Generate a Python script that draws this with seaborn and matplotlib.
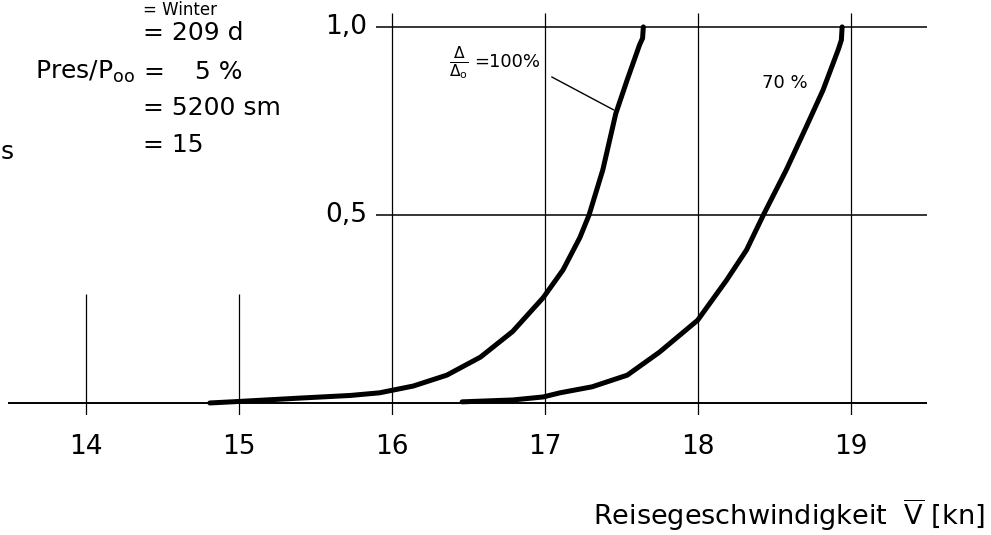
import matplotlib
matplotlib.use("Agg")
import matplotlib.pyplot as plt
import seaborn as sns
import pandas as pd

# ---- data ----
v_100 = [14.81, 15.0, 15.40, 15.73, 15.92, 16.14, 16.36, 16.58, 16.79, 16.99,
         17.12, 17.23, 17.29, 17.38, 17.465, 17.54, 17.62, 17.64, 17.645]
p_100 = [0.0, 0.004, 0.013, 0.020, 0.027, 0.045, 0.074, 0.122, 0.19, 0.28,
         0.354, 0.44, 0.5, 0.62, 0.77, 0.86, 0.952, 0.97, 1.0]
v_70 = [16.46, 16.79, 16.99, 17.10, 17.31, 17.54, 17.75, 18.0, 18.19, 18.32,
        18.43, 18.58, 18.71, 18.82, 18.92, 18.94, 18.945]
p_70 = [0.003, 0.008, 0.016, 0.027, 0.043, 0.074, 0.135, 0.22, 0.327, 0.407,
        0.5, 0.62, 0.734, 0.832, 0.94, 0.965, 1.0]
x_ticks = [14, 15, 16, 17, 18, 19]
x_ticklabels = ["14", "15", "16", "17", "18", "19"]
y_levels = [0.5, 1.0]
y_labels = ["0,5", "1,0"]
info_lines = ["= 209 d", "=", "= 5200 sm", "= 15"]

sns.set_style("white")
plt.rcParams["font.family"] = ["DejaVu Sans"]
plt.rcParams["text.color"] = "black"
plt.rcParams["xtick.color"] = "black"

W, H = 991, 535
fig = plt.figure(figsize=(W / 100, H / 100), dpi=100)

def fx(px):
    return px / W

def fy(py):
    return 1 - py / H

# axes: x 8..927 px, y 13..415 px
ax = fig.add_axes([fx(8), fy(415), (927 - 8) / W, (415 - 13) / H])
ax.set_xlim(13.49, 19.50)
ax.set_ylim(-0.032, 1.037)
for s in ax.spines.values():
    s.set_visible(False)

# reference lines
ax.axhline(0, color="black", lw=1.4, zorder=1)
ax.hlines(y_levels, 15.895, 19.5, color="black", lw=1.1, zorder=1)
ax.vlines([16, 17, 18, 19], -0.032, 1.037, color="black", lw=0.9, zorder=1)
ax.vlines([14, 15], -0.032, 0.29, color="black", lw=0.9, zorder=1)

df100 = pd.DataFrame({"v": v_100, "p": p_100})
df70 = pd.DataFrame({"v": v_70, "p": p_70})
sns.lineplot(data=df100, x="v", y="p", ax=ax, color="black", lw=3.6,
             sort=False, estimator=None, solid_capstyle="round",
             solid_joinstyle="round", zorder=3)
sns.lineplot(data=df70, x="v", y="p", ax=ax, color="black", lw=3.6,
             sort=False, estimator=None, solid_capstyle="round",
             solid_joinstyle="round", zorder=3)

ax.set_xticks(x_ticks)
ax.set_xticklabels(x_ticklabels, fontsize=19)
ax.tick_params(axis="x", length=0, pad=14)
ax.set_yticks([])
ax.set_xlabel("")
ax.set_ylabel("")

# y labels next to grid lines
for yl, lab in zip(y_levels, y_labels):
    ax.text(15.84, yl, lab, ha="right", va="center", fontsize=19)

# curve labels
ax.text(14 + (459 - 86) / 153, (403 - 63) / 376,
        r"$\frac{\Delta}{\Delta_{\mathregular{o}}}$", ha="center", va="center", fontsize=16)
ax.text(14 + (474 - 86) / 153, (403 - 62) / 376, "=100%", ha="left", va="center",
        fontsize=13)
ax.plot([14 + (552 - 86) / 153, 14 + (614 - 86) / 153],
        [(403 - 77) / 376, (403 - 110) / 376], color="black", lw=1.0)
ax.text(14 + (762 - 86) / 153, (403 - 83) / 376, "70 %", ha="left", va="center",
        fontsize=13)

# x label
fig.text(fx(985), fy(515), r"Reisegeschwindigkeit  $\overline{\mathregular{V}}$ [kn]",
         ha="right", va="center", fontsize=19.5)

# info block (top left)
fig.text(fx(143), fy(1), "= Winter", ha="left", va="top", fontsize=12)
info_y = [33, 72, 108, 145]
for txt, yy in zip(info_lines, info_y):
    fig.text(fx(143), fy(yy), txt, ha="left", va="center", fontsize=18)
fig.text(fx(135), fy(72), r"Pres/P$_{\mathregular{oo}}$", ha="right", va="center", fontsize=18)
fig.text(fx(195), fy(72), "5 %", ha="left", va="center", fontsize=18)
fig.text(fx(1), fy(152), "s", ha="left", va="center", fontsize=18)

fig.savefig("out.png", dpi=100, facecolor="white")
